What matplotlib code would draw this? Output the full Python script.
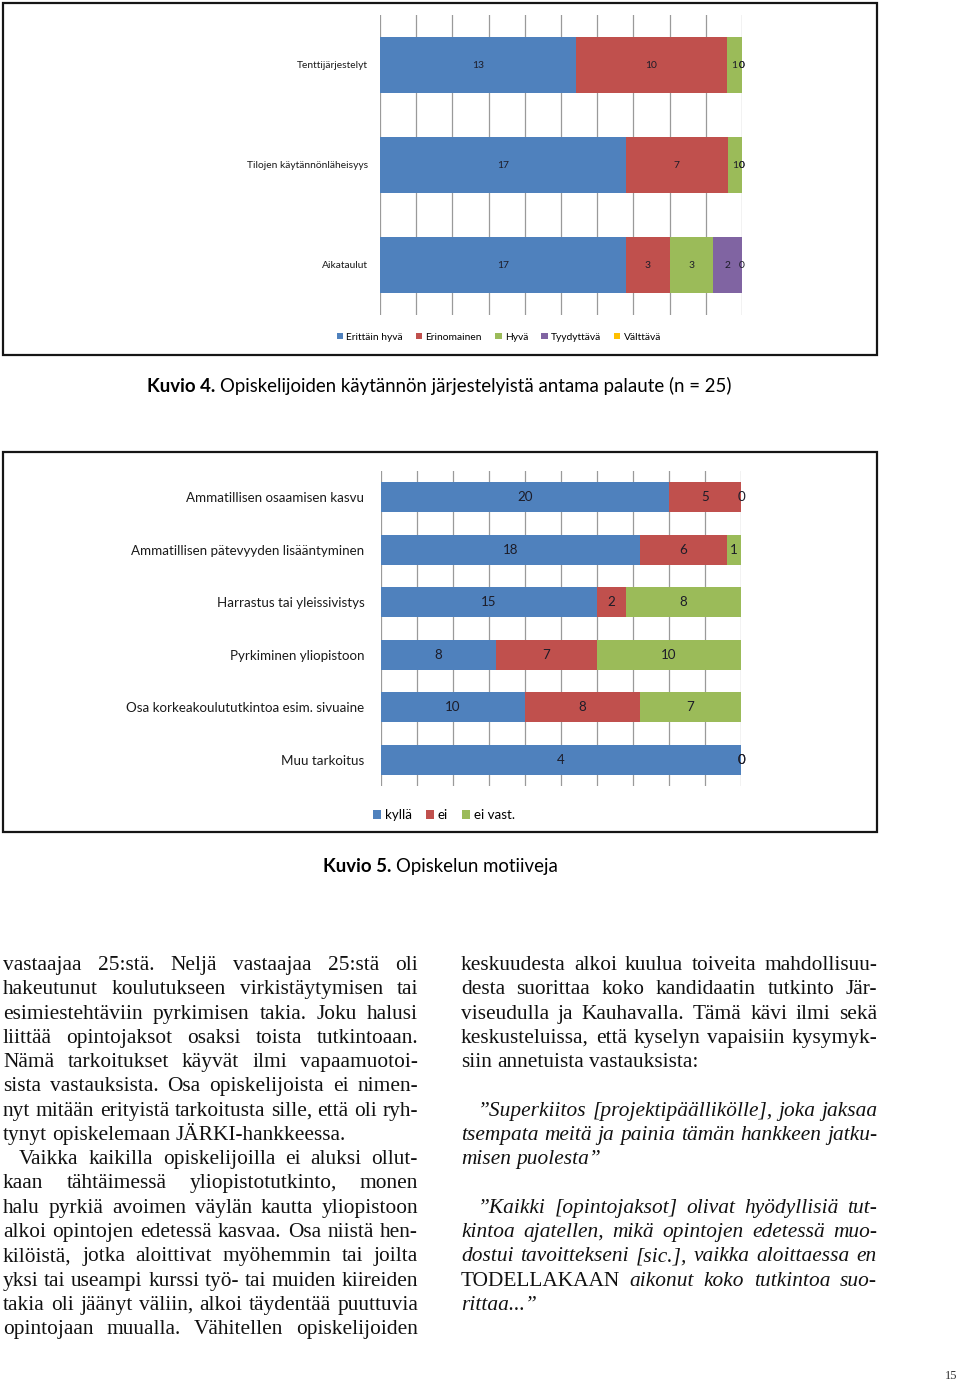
import matplotlib
matplotlib.use('Agg')
import matplotlib.pyplot as plt
import numpy as np
from matplotlib.patches import Rectangle

W, H = 960, 1384
fig = plt.figure(figsize=(9.6, 13.84), dpi=100)
renderer = fig.canvas.get_renderer()

def fx(x):
    return x / W

def fy(y):
    return 1 - y / H

# ---------------- data ----------------
c1_categories = ["Tenttijärjestelyt", "Tilojen käytännönläheisyys", "Aikataulut"]
c1_series = ["Erittäin hyvä", "Erinomainen", "Hyvä", "Tyydyttävä", "Välttävä"]
c1_erittain_hyva = [13, 17, 17]
c1_erinomainen = [10, 7, 3]
c1_hyva = [1, 1, 3]
c1_tyydyttava = [0, 0, 2]
c1_valttava = [0, 0, 0]
c1_colors = ["#4F81BD", "#C0504D", "#9BBB59", "#8064A2", "#FFC000"]

c2_categories = ["Ammatillisen osaamisen kasvu",
                 "Ammatillisen pätevyyden lisääntyminen",
                 "Harrastus tai yleissivistys",
                 "Pyrkiminen yliopistoon",
                 "Osa korkeakoulututkintoa esim. sivuaine",
                 "Muu tarkoitus"]
c2_series = ["kyllä", "ei", "ei vast."]
c2_kylla = [20, 18, 15, 8, 10, 4]
c2_ei = [5, 6, 2, 7, 8, 0]
c2_ei_vast = [0, 1, 8, 10, 7, 0]
c2_colors = ["#4F81BD", "#C0504D", "#9BBB59"]

SANS = ["Lato", "DejaVu Sans"]


def stacked(ax, cats, series_vals, colors, fs, pad, bar_h):
    y = np.arange(len(cats))
    vals = np.array(series_vals, dtype=float)
    totals = vals.sum(axis=0)
    left = np.zeros(len(cats))
    handles = []
    for v, col in zip(series_vals, colors):
        frac = np.array(v) / totals
        bc = ax.barh(y, frac, left=left, height=bar_h, color=col, zorder=3)
        ax.bar_label(bc, labels=[str(k) for k in v], label_type='center',
                     fontsize=fs, color="#1c1c28", family=SANS, zorder=5)
        left = left + frac
        handles.append(bc)
    ax.set_xlim(0, 1)
    ax.set_ylim(len(cats) - 0.5, -0.5)
    ax.set_xticks(np.linspace(0, 1, 11))
    ax.grid(axis='x', color='#9a9a9a', lw=0.9, zorder=0)
    ax.set_axisbelow(True)
    ax.tick_params(left=False, bottom=False, labelbottom=False, length=0, pad=pad)
    ax.set_yticks(y)
    ax.set_yticklabels(cats, fontsize=fs, family=SANS, color="#1a1a1a")
    for s in ax.spines.values():
        s.set_visible(False)
    return handles


# ---------------- chart 1 ----------------
fig.patches.append(Rectangle((fx(3), fy(355)), fx(877) - fx(3), fy(3) - fy(355),
                             transform=fig.transFigure, fill=False,
                             edgecolor='#151515', lw=1.6))
ax1 = fig.add_axes([fx(380), fy(315), fx(742) - fx(380), fy(15) - fy(315)])
h1 = stacked(ax1, c1_categories,
             [c1_erittain_hyva, c1_erinomainen, c1_hyva, c1_tyydyttava, c1_valttava],
             c1_colors, 7.4, 8.6, 0.56)
ax1.legend(h1, c1_series, loc='center', bbox_to_anchor=(fx(499), fy(337)),
           bbox_transform=fig.transFigure, ncol=5, frameon=False,
           handlelength=0.6, handleheight=0.6, handletextpad=0.3,
           columnspacing=1.3, prop={'family': SANS, 'size': 7.4})

# ---------------- chart 2 ----------------
fig.patches.append(Rectangle((fx(3), fy(832)), fx(877) - fx(3), fy(452) - fy(832),
                             transform=fig.transFigure, fill=False,
                             edgecolor='#151515', lw=1.6))
ax2 = fig.add_axes([fx(381), fy(786), fx(741) - fx(381), fy(471) - fy(786)])
h2 = stacked(ax2, c2_categories, [c2_kylla, c2_ei, c2_ei_vast],
             c2_colors, 9.6, 12.0, 0.57)
ax2.legend(h2, c2_series, loc='center', bbox_to_anchor=(fx(444), fy(815)),
           bbox_transform=fig.transFigure, ncol=3, frameon=False,
           handlelength=0.55, handleheight=0.6, handletextpad=0.3,
           columnspacing=1.1, prop={'family': SANS, 'size': 9.6})


# ---------------- captions ----------------
def caption(x, y, bold, rest, size):
    t = fig.text(fx(x), fy(y), bold, fontsize=size, family=SANS,
                 fontweight='bold', va='center', ha='left')
    w = t.get_window_extent(renderer).width
    fig.text(fx(x + w), fy(y), rest, fontsize=size, family=SANS,
             va='center', ha='left')

caption(147, 386, "Kuvio 4. ", "Opiskelijoiden käytännön järjestelyistä antama palaute (n = 25)", 13.4)
caption(323, 867, "Kuvio 5. ", "Opiskelun motiiveja", 13.4)

# ---------------- body text ----------------
SERIF = "Liberation Serif"
FS = 15.4


def width_of(s, style):
    t = fig.text(0, 0, s, fontsize=FS, family=SERIF, style=style)
    w = t.get_window_extent(renderer).width
    t.remove()
    return w


ROMAN = {"TODELLAKAAN"}


def draw_line(text, x0, x1, ycen, justify, style):
    words = text.split(" ")
    styles = ['normal' if w in ROMAN else style for w in words]
    widths = [width_of(w, s) for w, s in zip(words, styles)]
    space = width_of("a a", style) - width_of("aa", style)
    if justify and len(words) > 1:
        gap = (x1 - x0 - sum(widths)) / (len(words) - 1)
    else:
        gap = space
    x = x0
    for w, s, wd in zip(words, styles, widths):
        fig.text(fx(x), fy(ycen + 6), w, fontsize=FS, family=SERIF, style=s,
                 va='baseline', ha='left', color='#111111')
        x += wd + gap


left_lines = [
    ("vastaajaa 25:stä. Neljä vastaajaa 25:stä oli", True, 0),
    ("hakeutunut koulutukseen virkistäytymisen tai", True, 0),
    ("esimiestehtäviin pyrkimisen takia. Joku halusi", True, 0),
    ("liittää opintojaksot osaksi toista tutkintoaan.", True, 0),
    ("Nämä tarkoitukset käyvät ilmi vapaamuotoi-", True, 0),
    ("sista vastauksista. Osa opiskelijoista ei nimen-", True, 0),
    ("nyt mitään erityistä tarkoitusta sille, että oli ryh-", True, 0),
    ("tynyt opiskelemaan JÄRKI-hankkeessa.", False, 0),
    ("Vaikka kaikilla opiskelijoilla ei aluksi ollut-", True, 16),
    ("kaan tähtäimessä yliopistotutkinto, monen", True, 0),
    ("halu pyrkiä avoimen väylän kautta yliopistoon", True, 0),
    ("alkoi opintojen edetessä kasvaa. Osa niistä hen-", True, 0),
    ("kilöistä, jotka aloittivat myöhemmin tai joilta", True, 0),
    ("yksi tai useampi kurssi työ- tai muiden kiireiden", True, 0),
    ("takia oli jäänyt väliin, alkoi täydentää puuttuvia", True, 0),
    ("opintojaan muualla. Vähitellen opiskelijoiden", True, 0),
]

right_lines = [
    ("keskuudesta alkoi kuulua toiveita mahdollisuu-", True, 0, 'normal', 0),
    ("desta suorittaa koko kandidaatin tutkinto Jär-", True, 0, 'normal', 1),
    ("viseudulla ja Kauhavalla. Tämä kävi ilmi sekä", True, 0, 'normal', 2),
    ("keskusteluissa, että kyselyn vapaisiin kysymyk-", True, 0, 'normal', 3),
    ("siin annetuista vastauksista:", False, 0, 'normal', 4),
    ("”Superkiitos [projektipäällikölle], joka jaksaa", True, 17, 'italic', 6),
    ("tsempata meitä ja painia tämän hankkeen jatku-", True, 0, 'italic', 7),
    ("misen puolesta”", False, 0, 'italic', 8),
    ("”Kaikki [opintojaksot] olivat hyödyllisiä tut-", True, 17, 'italic', 10),
    ("kintoa ajatellen, mikä opintojen edetessä muo-", True, 0, 'italic', 11),
    ("dostui tavoittekseni [sic.], vaikka aloittaessa en", True, 0, 'italic', 12),
    ("TODELLAKAAN aikonut koko tutkintoa suo-", True, 0, 'italic', 13),
    ("rittaa...”", False, 0, 'italic', 14),
]

Y0 = 964
PITCH = 24.27
for i, (txt, just, ind) in enumerate(left_lines):
    draw_line(txt, 3 + ind, 418, Y0 + i * PITCH, just, 'normal')
for txt, just, ind, st, row in right_lines:
    draw_line(txt, 461 + ind, 877, Y0 + row * PITCH, just, st)

fig.text(fx(951), fy(1376), "15", fontsize=9, family=SERIF, ha='center',
         va='center', color='#333333')

fig.savefig("out.png", dpi=100)
